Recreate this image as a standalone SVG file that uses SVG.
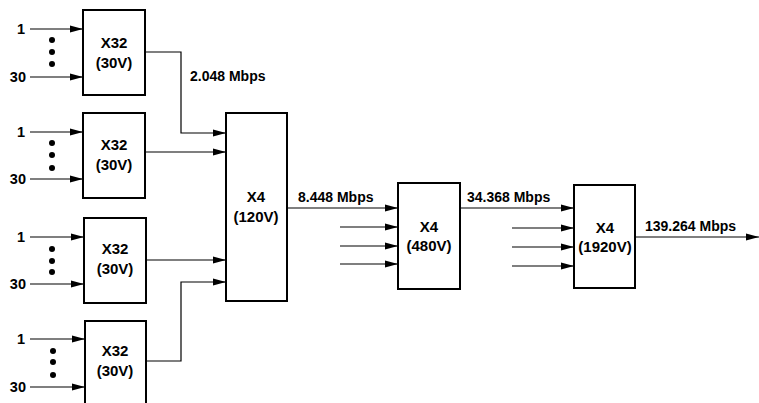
<svg xmlns="http://www.w3.org/2000/svg" width="759" height="403" viewBox="0 0 759 403">
<style>
text{font-family:"Liberation Sans",Arial,sans-serif;font-weight:bold;font-size:14px;fill:#000}
.c{text-anchor:middle;font-size:15px}
.e{text-anchor:end;font-size:14.5px}
.box{fill:#fff;stroke:#000;stroke-width:2}
.ln{fill:none;stroke:#000;stroke-width:1.2}
</style>
<defs>
<marker id="ah" markerWidth="13" markerHeight="8" refX="13" refY="4" orient="auto" markerUnits="userSpaceOnUse">
<path d="M0,0.5 L13,4 L0,7.5 Z" fill="#000"/>
</marker>
</defs>
<g id="connectors">
<path class="ln" marker-end="url(#ah)" d="M30,29 H83"/>
<path class="ln" marker-end="url(#ah)" d="M30,77 H83"/>
<path class="ln" marker-end="url(#ah)" d="M30,132 H83"/>
<path class="ln" marker-end="url(#ah)" d="M30,179 H83"/>
<path class="ln" marker-end="url(#ah)" d="M30,237 H84"/>
<path class="ln" marker-end="url(#ah)" d="M30,284 H84"/>
<path class="ln" marker-end="url(#ah)" d="M30,339 H85"/>
<path class="ln" marker-end="url(#ah)" d="M30,387 H85"/>
<path class="ln" marker-end="url(#ah)" d="M145,52 H181 V133 H226"/>
<path class="ln" marker-end="url(#ah)" d="M145,152 H226"/>
<path class="ln" marker-end="url(#ah)" d="M146,260 H226"/>
<path class="ln" marker-end="url(#ah)" d="M146,361 H181 V282 H226"/>
<path class="ln" marker-end="url(#ah)" d="M287,208 H398"/>
<path class="ln" marker-end="url(#ah)" d="M340,227 H398"/>
<path class="ln" marker-end="url(#ah)" d="M340,246 H398"/>
<path class="ln" marker-end="url(#ah)" d="M340,264 H398"/>
<path class="ln" marker-end="url(#ah)" d="M460,208 H574"/>
<path class="ln" marker-end="url(#ah)" d="M512,228 H574"/>
<path class="ln" marker-end="url(#ah)" d="M512,247 H574"/>
<path class="ln" marker-end="url(#ah)" d="M512,266 H574"/>
<path class="ln" marker-end="url(#ah)" d="M635,237 H759"/>
</g>
<g id="inputs-labels">
<text class="e" x="25" y="34">1</text>
<text class="e" x="26" y="82">30</text>
<text class="e" x="25" y="137">1</text>
<text class="e" x="26" y="184">30</text>
<text class="e" x="25" y="242">1</text>
<text class="e" x="26" y="289">30</text>
<text class="e" x="25" y="344">1</text>
<text class="e" x="26" y="392">30</text>
</g>
<g id="dots" fill="#000">
<circle cx="52" cy="40" r="3"/><circle cx="52" cy="52" r="3"/><circle cx="52" cy="64" r="3"/>
<circle cx="52" cy="143" r="3"/><circle cx="52" cy="155" r="3"/><circle cx="52" cy="168" r="3"/>
<circle cx="52" cy="249" r="3"/><circle cx="52" cy="261" r="3"/><circle cx="52" cy="272" r="3"/>
<circle cx="53" cy="351" r="3"/><circle cx="53" cy="362" r="3"/><circle cx="53" cy="375" r="3"/>
</g>
<g id="mux1"><rect class="box" x="83" y="10" width="62" height="85"/><text class="c" x="114" y="48">X32</text><text class="c" x="114" y="68">(30V)</text></g>
<g id="mux2"><rect class="box" x="83" y="113" width="62" height="85"/><text class="c" x="114" y="150">X32</text><text class="c" x="114" y="170">(30V)</text></g>
<g id="mux3"><rect class="box" x="84" y="218" width="62" height="85"/><text class="c" x="115" y="254">X32</text><text class="c" x="115" y="274">(30V)</text></g>
<g id="mux4"><rect class="box" x="85" y="321" width="61" height="85"/><text class="c" x="115" y="356">X32</text><text class="c" x="115" y="376">(30V)</text></g>
<g id="mux120"><rect class="box" x="226" y="113" width="61" height="188"/><text class="c" x="256" y="202">X4</text><text class="c" x="256" y="222">(120V)</text></g>
<g id="mux480"><rect class="box" x="398" y="183" width="62" height="106"/><text class="c" x="429" y="232">X4</text><text class="c" x="429" y="251">(480V)</text></g>
<g id="mux1920"><rect class="box" x="574" y="185" width="61" height="103"/><text class="c" x="605" y="233">X4</text><text class="c" x="605" y="252">(1920V)</text></g>
<g id="rate-labels">
<text x="190" y="81">2.048 Mbps</text>
<text x="298" y="202">8.448 Mbps</text>
<text x="467" y="202">34.368 Mbps</text>
<text x="645" y="231">139.264 Mbps</text>
</g>
</svg>
